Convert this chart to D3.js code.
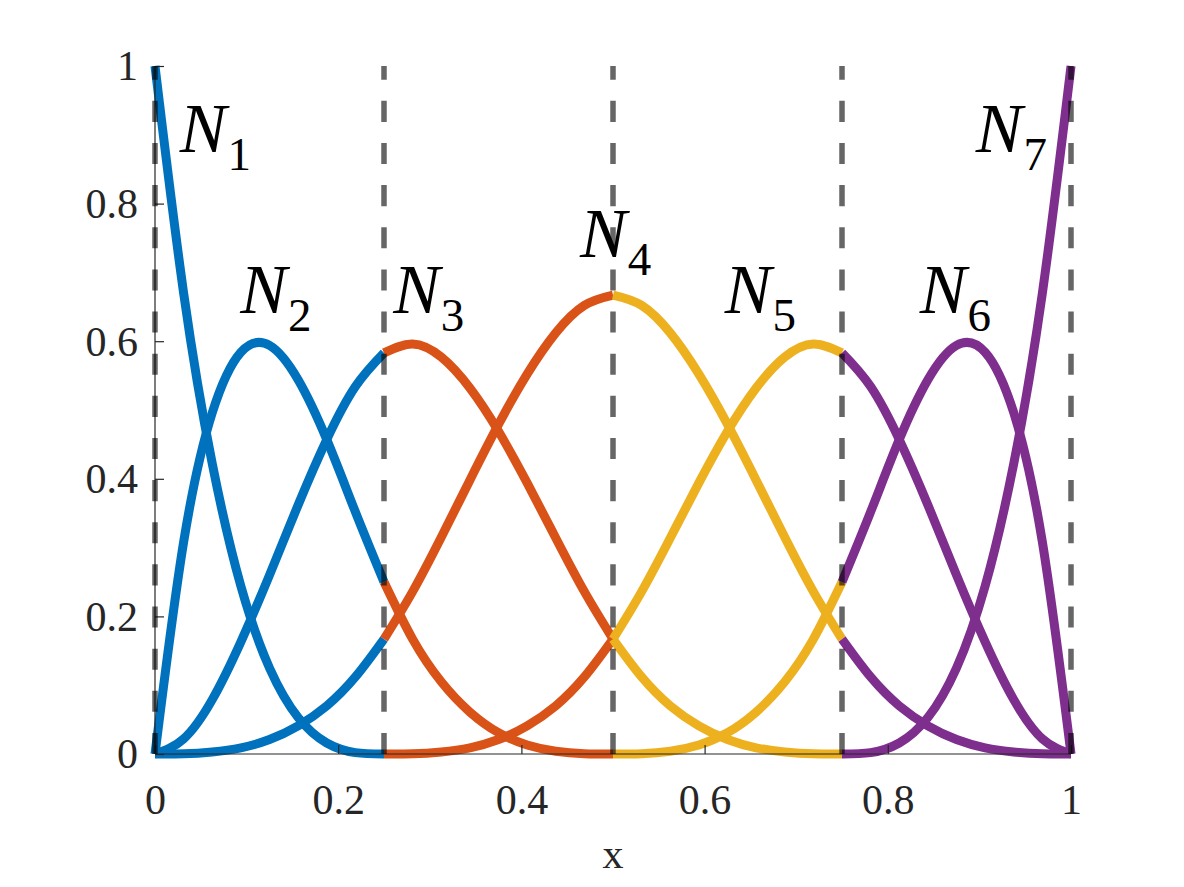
<!doctype html>
<html>
  <head>
    <meta charset="utf-8">
    <script src="https://cdn.jsdelivr.net/npm/d3@7"></script>
    <style>
      body {
        margin: 0;
        background-color: #ffffff;
      }
      svg {
        display: block;
      }
    </style>
  </head>
  <body>
    <svg class="chart"></svg>

  <script>

    const width = 1184,
        height = 887
    const margin = { top: 66, right: 113, bottom: 133, left: 155 }
    const serif = "'Liberation Serif', 'DejaVu Serif', 'Times New Roman', serif"

    // knot spans and the colour used for every piece inside that span
    const knots = [0, 0.25, 0.5, 0.75, 1]
    const spanColors = ['#0072BD', '#D95319', '#EDB120', '#7E2F8E']

    const xTicks = [0, 0.2, 0.4, 0.6, 0.8, 1]
    const yTicks = [0, 0.2, 0.4, 0.6, 0.8, 1]
    const xTickLabels = ['0', '0.2', '0.4', '0.6', '0.8', '1']
    const yTickLabels = ['0', '0.2', '0.4', '0.6', '0.8', '1']

    // values at 9 evenly spaced points across a span
    // span 1 : x in [0, 0.25]
    const n1s1 = [1, 0.670, 0.422, 0.244, 0.125, 0.053, 0.016, 0.002, 0]
    const n2s1 = [0, 0.308, 0.496, 0.584, 0.594, 0.544, 0.457, 0.352, 0.250]
    const n3s1 = [0, 0.022, 0.079, 0.163, 0.260, 0.362, 0.457, 0.534, 0.583]
    const n4s1 = [0, 0.0003, 0.003, 0.009, 0.021, 0.041, 0.070, 0.112, 0.167]
    // span 2 : x in [0.25, 0.5]
    const n2s2 = [0.250, 0.167, 0.105, 0.061, 0.031, 0.013, 0.004, 0.0005, 0]
    const n3s2 = [0.583, 0.596, 0.577, 0.532, 0.469, 0.394, 0.314, 0.236, 0.167]
    const n4s2 = [0.167, 0.236, 0.315, 0.398, 0.479, 0.552, 0.612, 0.652, 0.667]
    const n5s2 = [0, 0.0003, 0.003, 0.009, 0.021, 0.041, 0.070, 0.112, 0.167]
    // span 3 : x in [0.5, 0.75]
    const n3s3 = [0.167, 0.112, 0.070, 0.041, 0.021, 0.009, 0.003, 0.0003, 0]
    const n4s3 = [0.667, 0.652, 0.612, 0.552, 0.479, 0.398, 0.315, 0.236, 0.167]
    const n5s3 = [0.167, 0.236, 0.314, 0.394, 0.469, 0.532, 0.577, 0.596, 0.583]
    const n6s3 = [0, 0.0005, 0.004, 0.013, 0.031, 0.061, 0.105, 0.167, 0.250]
    // span 4 : x in [0.75, 1]
    const n4s4 = [0.167, 0.112, 0.070, 0.041, 0.021, 0.009, 0.003, 0.0003, 0]
    const n5s4 = [0.583, 0.534, 0.457, 0.362, 0.260, 0.163, 0.079, 0.022, 0]
    const n6s4 = [0.250, 0.352, 0.457, 0.544, 0.594, 0.584, 0.496, 0.308, 0]
    const n7s4 = [0, 0.002, 0.016, 0.053, 0.125, 0.244, 0.422, 0.670, 1]

    const pieces = [
      { span: 0, ys: n1s1 }, { span: 0, ys: n2s1 }, { span: 0, ys: n3s1 }, { span: 0, ys: n4s1 },
      { span: 1, ys: n2s2 }, { span: 1, ys: n3s2 }, { span: 1, ys: n4s2 }, { span: 1, ys: n5s2 },
      { span: 2, ys: n3s3 }, { span: 2, ys: n4s3 }, { span: 2, ys: n5s3 }, { span: 2, ys: n6s3 },
      { span: 3, ys: n4s4 }, { span: 3, ys: n5s4 }, { span: 3, ys: n6s4 }, { span: 3, ys: n7s4 }
    ]

    // basis labels: subscript, anchor (data coords, left edge / baseline)
    const labelNames = ['1', '2', '3', '4', '5', '6', '7']
    const labelX = [0.027, 0.093, 0.260, 0.464, 0.622, 0.835, 0.896]
    const labelY = [0.875, 0.641, 0.641, 0.722, 0.641, 0.641, 0.875]

    const svg = d3.select("svg")
                .attr("width", width)
                .attr("height", height)

    const xScale = d3.scaleLinear()
                   .domain([0, 1])
                   .range([margin.left, width - margin.right])

    const yScale = d3.scaleLinear()
                   .domain([0, 1])
                   .range([height - margin.bottom, margin.top])

    const line = d3.line()
                   .x((d) => xScale(d[0]))
                   .y((d) => yScale(d[1]))
                   .curve(d3.curveNatural)

    // curves
    svg.append("g")
        .attr("class", "curves")
      .selectAll("path")
      .data(pieces)
      .enter().append("path")
        .attr("fill", "none")
        .attr("stroke", (d) => spanColors[d.span])
        .attr("stroke-width", 9)
        .attr("stroke-linejoin", "round")
        .attr("d", function(d) {
          const x0 = knots[d.span], x1 = knots[d.span + 1]
          const n = d.ys.length - 1
          return line(d.ys.map((y, i) => [x0 + (x1 - x0) * i / n, y]))
        })

    // axes
    const xAxis = d3.axisBottom(xScale)
                    .tickValues(xTicks)
                    .tickFormat((d, i) => xTickLabels[i])
                    .tickSizeInner(-9)
                    .tickSizeOuter(0)
                    .tickPadding(20)

    const yAxis = d3.axisLeft(yScale)
                    .tickValues(yTicks)
                    .tickFormat((d, i) => yTickLabels[i])
                    .tickSizeInner(-9)
                    .tickSizeOuter(0)
                    .tickPadding(17)

    const gx = svg.append("g")
        .attr("transform", "translate(0," + yScale(0) + ")")
        .call(xAxis)
    gx.selectAll("text").attr("dy", "0.95em")

    const gy = svg.append("g")
        .attr("transform", "translate(" + xScale(0) + ",0)")
        .call(yAxis)
    gy.selectAll("text").attr("dy", "0.33em")

    for (const g of [gx, gy]) {
      g.select(".domain").remove()
      g.attr("font-family", null).attr("font-size", null)
      g.selectAll(".tick line").attr("stroke", "#262626").attr("stroke-width", 1.2)
      g.selectAll(".tick text")
        .style("font-family", serif)
        .style("font-size", "42px")
        .style("fill", "#262626")
    }

    svg.append("line")
        .attr("x1", xScale(0)).attr("x2", xScale(1))
        .attr("y1", yScale(0)).attr("y2", yScale(0))
        .attr("stroke", "#262626").attr("stroke-width", 1.2)
    svg.append("line")
        .attr("x1", xScale(0)).attr("x2", xScale(0))
        .attr("y1", yScale(0)).attr("y2", yScale(1))
        .attr("stroke", "#262626").attr("stroke-width", 1.2)

    // knot lines, drawn bottom to top on top of the curves
    svg.append("g")
        .attr("class", "knots")
      .selectAll("line")
      .data(knots)
      .enter().append("line")
        .attr("x1", (d) => xScale(d))
        .attr("x2", (d) => xScale(d))
        .attr("y1", yScale(0))
        .attr("y2", yScale(1))
        .attr("stroke", "#000")
        .attr("stroke-opacity", 0.6)
        .attr("stroke-width", 5.5)
        .attr("stroke-dasharray", "21.07,21.07")

    // x label
    svg.append("text")
        .attr("x", xScale(0.5))
        .attr("y", 868)
        .attr("text-anchor", "middle")
        .style("font-family", serif)
        .style("font-size", "42px")
        .style("fill", "#262626")
        .text("x")

    // N_i labels
    const lab = svg.append("g")
        .attr("class", "basis-labels")
      .selectAll("text")
      .data(labelNames)
      .enter().append("text")
        .attr("x", (d, i) => xScale(labelX[i]))
        .attr("y", (d, i) => yScale(labelY[i]))
        .style("font-family", serif)
        .style("font-size", "70px")
        .style("fill", "#000")

    lab.append("tspan")
        .style("font-style", "italic")
        .text("N")
    lab.append("tspan")
        .attr("dx", 1)
        .attr("dy", 18)
        .style("font-size", "47px")
        .text((d) => d)

  </script>
  </body>
</html>
